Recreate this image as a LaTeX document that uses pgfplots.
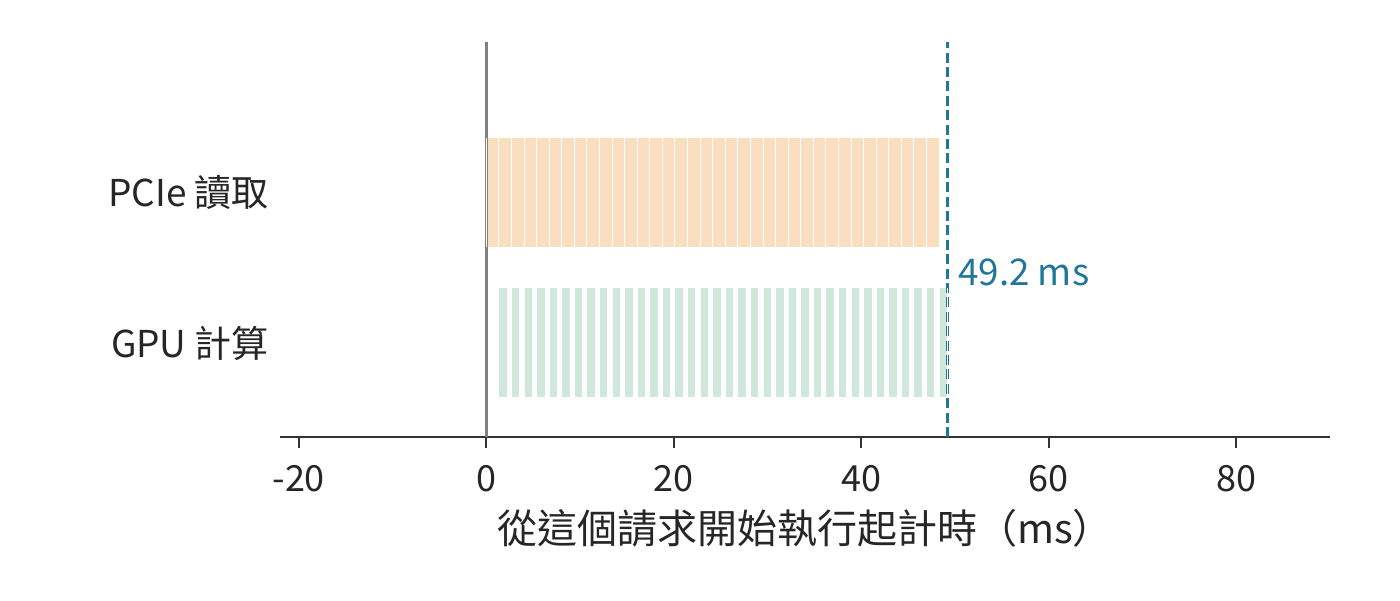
\documentclass[border=0pt]{standalone}
\usepackage{fontspec}
\setmainfont{Noto Sans CJK TC}
\usepackage{pgfplots}
\usepackage{pgfplotstable}
\pgfplotsset{compat=1.18}

\definecolor{pcie}{RGB}{249,222,191}
\definecolor{gpu}{RGB}{208,232,219}
\definecolor{markline}{RGB}{33,118,153}
\definecolor{zeroline}{RGB}{128,128,128}
\definecolor{axisgray}{RGB}{51,51,51}
\definecolor{txt}{RGB}{38,38,38}

% chunk boundaries of the PCIe reads (ms)
\pgfplotstableread[row sep=\\]{
x y\\
0 1\\ 1.34 1\\ 2.68 1\\ 4.03 1\\ 5.37 1\\ 6.71 1\\ 8.05 1\\ 9.39 1\\
10.73 1\\ 12.08 1\\ 13.42 1\\ 14.76 1\\ 16.10 1\\ 17.44 1\\ 18.78 1\\
20.13 1\\ 21.47 1\\ 22.81 1\\ 24.15 1\\ 25.49 1\\ 26.83 1\\ 28.18 1\\
29.52 1\\ 30.86 1\\ 32.20 1\\ 33.54 1\\ 34.88 1\\ 36.23 1\\ 37.57 1\\
38.91 1\\ 40.25 1\\ 41.59 1\\ 42.93 1\\ 44.28 1\\ 45.62 1\\ 46.96 1\\
48.30 1\\
}\pcietable

% GPU compute blocks: start, end, gap
\pgfplotstableread[row sep=\\]{
x y\\
1.34 0\\ 2.24 0\\ nan nan\\ 2.68 0\\ 3.58 0\\ nan nan\\
4.03 0\\ 4.93 0\\ nan nan\\ 5.37 0\\ 6.27 0\\ nan nan\\
6.71 0\\ 7.61 0\\ nan nan\\ 8.05 0\\ 8.95 0\\ nan nan\\
9.39 0\\ 10.29 0\\ nan nan\\ 10.73 0\\ 11.63 0\\ nan nan\\
12.08 0\\ 12.98 0\\ nan nan\\ 13.42 0\\ 14.32 0\\ nan nan\\
14.76 0\\ 15.66 0\\ nan nan\\ 16.10 0\\ 17.00 0\\ nan nan\\
17.44 0\\ 18.34 0\\ nan nan\\ 18.78 0\\ 19.68 0\\ nan nan\\
20.13 0\\ 21.03 0\\ nan nan\\ 21.47 0\\ 22.37 0\\ nan nan\\
22.81 0\\ 23.71 0\\ nan nan\\ 24.15 0\\ 25.05 0\\ nan nan\\
25.49 0\\ 26.39 0\\ nan nan\\ 26.83 0\\ 27.73 0\\ nan nan\\
28.18 0\\ 29.08 0\\ nan nan\\ 29.52 0\\ 30.42 0\\ nan nan\\
30.86 0\\ 31.76 0\\ nan nan\\ 32.20 0\\ 33.10 0\\ nan nan\\
33.54 0\\ 34.44 0\\ nan nan\\ 34.88 0\\ 35.78 0\\ nan nan\\
36.23 0\\ 37.13 0\\ nan nan\\ 37.57 0\\ 38.47 0\\ nan nan\\
38.91 0\\ 39.81 0\\ nan nan\\ 40.25 0\\ 41.15 0\\ nan nan\\
41.59 0\\ 42.49 0\\ nan nan\\ 42.93 0\\ 43.83 0\\ nan nan\\
44.28 0\\ 45.18 0\\ nan nan\\ 45.62 0\\ 46.52 0\\ nan nan\\
46.96 0\\ 47.86 0\\ nan nan\\ 48.30 0\\ 49.20 0\\
}\gputable

\begin{document}
\begin{tikzpicture}
\useasboundingbox (-140pt,-81.5pt) rectangle (560pt,218.5pt);
\begin{axis}[
  scale only axis,
  width=525pt, height=197.5pt,
  xmin=-22, xmax=90,
  ymin=-0.625, ymax=2,
  axis x line*=bottom,
  axis y line*=left,
  y axis line style={draw=none},
  x axis line style={line width=0.75pt, color=axisgray},
  xtick={-20,0,20,40,60,80},
  xticklabels={-20,0,20,40,60,80},
  ytick={0,1},
  yticklabels={GPU 計算,PCIe 讀取},
  ytick style={draw=none},
  xtick style={line width=1pt, color=axisgray},
  tick align=outside,
  major tick length=5.5pt,
  tick label style={font=\fontsize{18}{20}\selectfont, text=txt},
  xticklabel style={yshift=-5pt},
  yticklabel style={font=\fontsize{18.5}{20}\selectfont, xshift=3.5pt},
  xlabel={從這個請求開始執行起計時（ms）},
  xlabel style={font=\fontsize{20}{24}\selectfont, text=txt, yshift=-2pt},
  unbounded coords=jump,
]
\addplot[pcie, line width=54.5pt, mark=none] table {\pcietable};
\addplot[only marks, mark=|, mark size=27.25pt,
  mark options={white, line width=0.5pt}] table {\pcietable};
\addplot[gpu, line width=54.5pt, mark=none] table {\gputable};
\addplot[only marks, mark=|, mark size=27.25pt,
  mark options={white, line width=0.5pt}] table {\gputable};
\addplot[zeroline, line width=1.5pt, mark=none] coordinates {(0,-0.625) (0,2)};
\addplot[markline, line width=1.5pt, mark=none, dash pattern=on 5pt off 2.2pt]
  coordinates {(49.2,-0.625) (49.2,2)};
\node[anchor=west, inner sep=0pt, text=markline, font=\fontsize{18.4}{20}\selectfont]
  at (axis cs:50.3,0.47) {49.2 ms};
\end{axis}
\end{tikzpicture}
\end{document}
